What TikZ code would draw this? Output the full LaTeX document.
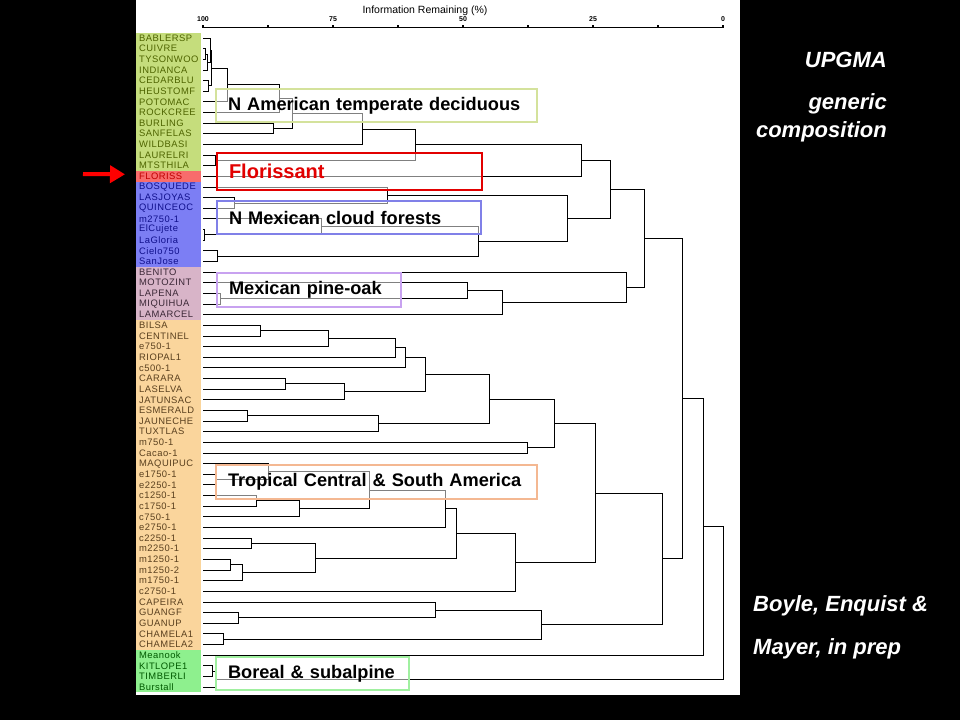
\documentclass[tikz,border=0pt]{standalone}
\usepackage{fontspec}
\setmainfont{Liberation Sans}
\newfontfamily\leaffont[LetterSpace=5]{Liberation Sans}
\usepackage{tikz}
\usetikzlibrary{positioning,calc,arrows.meta}

\definecolor{namfill}{RGB}{197,221,124}
\definecolor{namtxt}{RGB}{78,100,0}
\definecolor{flofill}{RGB}{248,108,108}
\definecolor{flotxt}{RGB}{190,0,0}
\definecolor{cldfill}{RGB}{124,126,244}
\definecolor{cldtxt}{RGB}{16,16,140}
\definecolor{pinfill}{RGB}{216,180,200}
\definecolor{pintxt}{RGB}{60,40,55}
\definecolor{trofill}{RGB}{250,213,156}
\definecolor{trotxt}{RGB}{90,64,30}
\definecolor{borfill}{RGB}{142,240,142}
\definecolor{bortxt}{RGB}{0,90,0}
\definecolor{nambord}{RGB}{212,226,156}
\definecolor{flobord}{RGB}{226,0,0}
\definecolor{cldbord}{RGB}{128,128,232}
\definecolor{pinbord}{RGB}{200,162,240}
\definecolor{trobord}{RGB}{244,184,146}
\definecolor{borbord}{RGB}{160,240,160}

% one join of the dendrogram: child a, child b, x of the join, name of the new node
\newcommand{\mergeat}[4]{%
    \coordinate (jx) at (#3,0);
    \draw[branch] (#1) -- (#1 -| jx) -- (#2 -| jx) -- (#2);
    \coordinate (#4) at ($(#1 -| jx)!0.5!(#2 -| jx)$);
}

\begin{document}
\begin{tikzpicture}[x=1pt,y=-1pt,
        branch/.style={line width=0.8pt, black},
        leaf/.style={anchor=west, inner sep=0pt, font=\leaffont\fontsize{9.4}{10}\selectfont},
        grpbox/.style={draw, line width=2pt, fill=white, fill opacity=0.5, text opacity=1,
            anchor=north west, inner xsep=12pt, inner ysep=0pt, align=left,
            font=\bfseries\fontsize{18.2}{20}\selectfont},
        sidetxt/.style={text=white, inner sep=0pt, font=\bfseries\itshape\fontsize{22}{24}\selectfont}]
        \useasboundingbox (0,0) rectangle (960,720);
        \fill[black] (0,0) rectangle (960,720);
        \fill[white] (136,0) rectangle (740,695);

        % coloured label column
        \fill[namfill] (136,32.7) rectangle (201,171.0);
        \fill[flofill] (136,171.0) rectangle (201,181.6);
        \fill[cldfill] (136,181.6) rectangle (201,266.8);
        \fill[pinfill] (136,266.8) rectangle (201,320.0);
        \fill[trofill] (136,320.0) rectangle (201,649.8);
        \fill[borfill] (136,649.8) rectangle (201,692.3);

        \foreach \n [count=\i from 1] in {BABLERSP,CUIVRE,TYSONWOO,INDIANCA,CEDARBLU,HEUSTOMF,POTOMAC,ROCKCREE,BURLING,SANFELAS,WILDBASI,LAURELRI,MTSTHILA}
            \node[leaf, text=namtxt] (leaf\i) at (139,{38+(\i-1)*10.64}) {\n};
        \node[leaf, text=flotxt] (leaf14) at (139,{38+13*10.64}) {FLORISS};
        \foreach \n [count=\i from 15] in {BOSQUEDE,LASJOYAS,QUINCEOC,m2750-1,ElCujete,LaGloria,Cielo750,SanJose}
            \node[leaf, text=cldtxt] (leaf\i) at (139,{38+(\i-1)*10.64}) {\n};
        \foreach \n [count=\i from 23] in {BENITO,MOTOZINT,LAPENA,MIQUIHUA,LAMARCEL}
            \node[leaf, text=pintxt] (leaf\i) at (139,{38+(\i-1)*10.64}) {\n};
        \foreach \n [count=\i from 28] in {BILSA,CENTINEL,e750-1,RIOPAL1,c500-1,CARARA,LASELVA,JATUNSAC,ESMERALD,JAUNECHE,TUXTLAS,m750-1,Cacao-1,MAQUIPUC,e1750-1,e2250-1,c1250-1,c1750-1,c750-1,e2750-1,c2250-1,m2250-1,m1250-1,m1250-2,m1750-1,c2750-1,CAPEIRA,GUANGF,GUANUP,CHAMELA1,CHAMELA2}
            \node[leaf, text=trotxt] (leaf\i) at (139,{38+(\i-1)*10.64}) {\n};
        \foreach \n [count=\i from 59] in {Meanook,KITLOPE1,TIMBERLI,Burstall}
            \node[leaf, text=bortxt] (leaf\i) at (139,{38+(\i-1)*10.64}) {\n};

        % axis
        \coordinate (axl) at (203,27.5);
        \coordinate (axr) at (723,27.5);
        \draw[line width=1.6pt] (axl) -- (axr);
        \foreach \k in {0,...,8}
            \draw[line width=1.2pt] ($(axl)!\k/8!(axr)$) -- ++(0,-3);
        \foreach \v [count=\k from 0] in {100,75,50,25,0}
            \node[font=\bfseries\fontsize{7}{7}\selectfont] (tick\k) at ($(axl)!\k/4!(axr)+(0,-8.5)$) {\v};
        \node[font=\fontsize{10.5}{12}\selectfont] (axtitle) at (425,10.5) {Information Remaining (\%)};

        % dendrogram
        \foreach \i in {1,...,62}
            \coordinate (t\i) at (203,{38+(\i-1)*10.64});
        \foreach \a/\b/\x/\c in {t2/t3/205.5/a1, a1/t4/207/a2, t1/a2/210/a3, t5/t6/208/a4, a3/a4/211.7/a5,
                a5/t7/227/a6, a6/t8/279/a7, t9/t10/273/a8, a7/a8/292/a9, a9/t11/362/a10, t12/t13/215/a11,
                a10/a11/415.7/a12, a12/t14/581/a13,
                t16/t17/234/b1, t15/b1/387/b2, t19/t20/204/b3, t18/b3/321/b4, t21/t22/217/b5, b4/b5/478/b6,
                b2/b6/567/b7, a13/b7/610/g1,
                t25/t26/220/p1, t24/p1/467/p2, p2/t27/502/p3, t23/p3/626/p4, g1/p4/644/g2,
                t28/t29/260.7/r1, r1/t30/328.3/r2, r2/t31/395.7/r3, r3/t32/405.3/r4, t33/t34/285.7/r5,
                r5/t35/344.3/r6, r4/r6/425.7/r7, t36/t37/247.7/r8, r8/t38/378.3/r9, r7/r9/489.3/r10,
                t39/t40/527.3/r11, r10/r11/554.3/r12, t42/t43/215/r13, t41/r13/268/r14, t44/t45/256.7/r15,
                r15/t46/299.3/r16, r14/r16/369.3/r17, r17/t47/445.3/r18, t48/t49/251/r19, t50/t51/230.7/r20,
                r20/t52/242.3/r21, r19/r21/315/r22, r18/r22/456.7/r23, r23/t53/515.3/r24, r12/r24/595.7/r25,
                t55/t56/238.3/r26, t54/r26/435.3/r27, t57/t58/223.3/r28, r27/r28/541.3/r29, r25/r29/662.7/g3,
                g2/g3/682.7/g4, g4/t59/703/g5, t60/t61/212/s1, s1/t62/216/s2, g5/s2/723/g6}
            \mergeat{\a}{\b}{\x}{\c};

        % group labels
        \node[grpbox, draw=nambord, text width=297pt, minimum height=33pt] (namlab) at (215,88) {N American temperate deciduous};
        \node[grpbox, draw=flobord, text=flobord, text width=241pt, minimum height=37pt,
            font=\bfseries\fontsize{20}{22}\selectfont] (flolab) at (216,152) {Florissant};
        \node[grpbox, draw=cldbord, text width=240pt, minimum height=33pt] (cldlab) at (216,200) {N Mexican cloud forests};
        \node[grpbox, draw=pinbord, text width=160pt, minimum height=34pt] (pinlab) at (216,272) {Mexican pine-oak};
        \node[grpbox, draw=trobord, text width=297pt, minimum height=34pt] (trolab) at (215,464) {Tropical Central \& South America};
        \node[grpbox, draw=borbord, text width=169pt, minimum height=33pt] (borlab) at (215,656) {Boreal \& subalpine};

        % arrow to Florissant
        \coordinate (flarrow) at (83,174);
        \draw[-{Triangle[length=15pt,width=17pt]}, line width=4pt, red] (flarrow) -- ([xshift=-14pt,yshift=2pt]leaf14.west);

        % side texts
        \node[sidetxt, anchor=east] (upgma) at (887,60) {UPGMA};
        \node[sidetxt, anchor=east] (generic) at (887,104) {generic};
        \node[sidetxt, anchor=east] (compos) at (887,132) {composition};
        \node[sidetxt, anchor=west] (boyle) at (753,606) {Boyle, Enquist \&};
        \node[sidetxt, anchor=west] (mayer) at (753,649) {Mayer, in prep};
    \end{tikzpicture}
\end{document}
